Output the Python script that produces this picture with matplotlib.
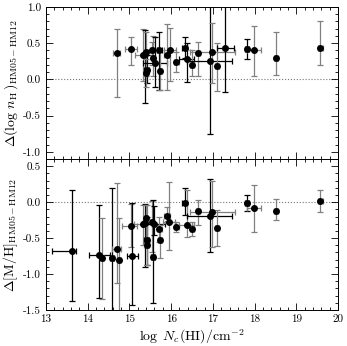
"""
Difference between HM05 and HM12 UV background models:
density offset (top) and metallicity offset (bottom) vs column density.
"""

import numpy as np
import matplotlib
matplotlib.use("Agg")
import matplotlib.pyplot as plt
from matplotlib.ticker import MultipleLocator, FormatStrFormatter

plt.rcParams["font.family"] = ["cmr10", "DejaVu Serif"]
plt.rcParams["mathtext.fontset"] = "cm"
plt.rcParams["axes.unicode_minus"] = False
plt.rcParams["axes.formatter.use_mathtext"] = False

GRAY = "#808080"
BLACK = "#000000"

# ---- top panel: Delta(log n_H) ----
nh_logN = [14.69, 15.04, 15.33, 15.37, 15.39, 15.41, 15.40, 15.55, 15.57, 15.61,
           15.72, 15.73, 15.89, 15.97, 16.12, 16.32, 16.37, 16.49, 16.64, 16.93,
           16.98, 17.09, 17.30, 17.81, 17.98, 18.51, 19.58]
nh_val = [0.36, 0.42, 0.34, 0.35, 0.38, 0.13, 0.085, 0.40, 0.29, 0.23,
          0.40, 0.12, 0.34, 0.40, 0.24, 0.44, 0.28, 0.20, 0.36, 0.26,
          0.38, 0.18, 0.44, 0.42, 0.40, 0.30, 0.44]
nh_low = [-0.25, 0.20, -0.02, -0.33, 0.05, -0.05, -0.10, 0.20, 0.05, -0.10,
          -0.15, -0.15, -0.14, -0.02, 0.10, 0.30, -0.04, 0.04, 0.04, -0.75,
          -0.05, -0.16, -0.18, 0.28, 0.05, 0.06, 0.20]
nh_high = [0.70, 0.58, 0.69, 0.68, 0.66, 0.33, 0.28, 0.52, 0.60, 0.58,
           0.66, 0.40, 0.76, 0.71, 0.38, 0.59, 0.50, 0.40, 0.52, 1.20,
           0.78, 0.50, 1.20, 0.56, 0.74, 0.65, 0.80]
nh_xerr = [0.08, 0.15, 0.20, 0.05, 0.05, 0.06, 0.05, 0.05, 0.05, 0.28,
           0.05, 0.05, 0.05, 0.15, 0.06, 0.05, 0.18, 0.05, 0.05, 0.54,
           0.54, 0.05, 0.20, 0.05, 0.17, 0.05, 0.05]
nh_dark = [0, 0, 0, 1, 0, 1, 0, 0, 0, 1,
           1, 0, 0, 0, 0, 1, 1, 0, 0, 1,
           0, 0, 1, 1, 0, 0, 0]

# ---- bottom panel: Delta[M/H] ----
mh_logN = [13.63, 14.28, 14.34, 14.58, 14.69, 14.75, 15.03, 15.07, 15.33, 15.37,
           15.39, 15.41, 15.41, 15.55, 15.58, 15.57, 15.72, 15.73, 15.90, 15.95,
           16.12, 16.32, 16.37, 16.49, 16.64, 16.93, 16.98, 17.09, 17.81, 17.98,
           18.51, 19.58]
mh_val = [-0.68, -0.74, -0.78, -0.77, -0.65, -0.81, -0.33, -0.75, -0.30, -0.29,
          -0.22, -0.53, -0.59, -0.28, -0.31, -0.76, -0.38, -0.52, -0.19, -0.28,
          -0.35, -0.01, -0.32, -0.38, -0.13, -0.19, -0.14, -0.36, -0.01, -0.08,
          -0.12, 0.01]
mh_low = [-1.37, -1.33, -1.35, -1.80, -1.13, -1.80, -0.62, -1.43, -0.60, -0.90,
          -0.55, -0.88, -0.88, -0.70, -0.45, -1.40, -0.55, -0.78, -0.29, -0.66,
          -0.42, -0.18, -0.48, -0.47, -0.32, -0.69, -0.62, -0.61, -0.12, -0.41,
          -0.25, -0.14]
mh_high = [0.17, -0.04, -0.22, 0.20, 0.27, -0.22, -0.02, -0.01, -0.04, -0.03,
           -0.04, -0.20, -0.04, 0.02, -0.05, 0.03, -0.20, -0.32, -0.07, 0.28,
           -0.28, 0.20, 0.17, -0.28, 0.03, 0.32, 0.29, -0.11, 0.10, 0.24,
           0.04, 0.17]
mh_xlo = [0.48, 0.26, 0.05, 0.05, 0.10, 0.05, 0.20, 0.14, 0.22, 0.05,
          0.05, 0.05, 0.05, 0.05, 0.28, 0.05, 0.05, 0.05, 0.08, 0.15,
          0.06, 0.05, 0.18, 0.05, 0.05, 0.54, 0.54, 0.05, 0.05, 0.17,
          0.05, 0.05]
mh_xhi = [0.08, 0.26, 0.05, 0.05, 0.10, 0.05, 0.15, 0.14, 0.22, 0.05,
          0.05, 0.05, 0.05, 0.05, 0.28, 0.05, 0.05, 0.05, 0.08, 0.15,
          0.06, 0.05, 0.18, 0.05, 0.05, 0.54, 0.54, 0.05, 0.05, 0.17,
          0.05, 0.05]
mh_dark = [1, 1, 0, 1, 0, 0, 0, 1, 0, 1,
           0, 1, 0, 0, 1, 1, 0, 0, 0, 0,
           0, 1, 0, 0, 0, 1, 0, 0, 1, 0,
           0, 0]


def draw_points(ax, x, y, lo, hi, xlo, xhi, dark):
    for i in range(len(x)):
        col = BLACK if dark[i] else GRAY
        ax.errorbar(
            x[i], y[i],
            yerr=[[y[i] - lo[i]], [hi[i] - y[i]]],
            xerr=[[xlo[i]], [xhi[i]]],
            fmt="none", ecolor=col, elinewidth=0.9, capsize=2, capthick=0.9,
        )
    ax.plot(x, y, "o", color="black", ms=4, zorder=5)


def style_axis(ax):
    ax.set_xlim(13, 20)
    ax.xaxis.set_major_locator(MultipleLocator(1))
    ax.xaxis.set_minor_locator(MultipleLocator(0.2))
    ax.yaxis.set_major_locator(MultipleLocator(0.5))
    ax.yaxis.set_minor_locator(MultipleLocator(0.1))
    ax.yaxis.set_major_formatter(FormatStrFormatter("%.1f"))
    ax.tick_params(which="both", direction="in", top=True, right=True,
                   labelsize=8, width=0.6)
    ax.tick_params(which="major", length=5)
    ax.tick_params(which="minor", length=2.5)
    ax.axhline(0.0, color="#777777", ls=":", lw=0.8, zorder=0)
    for s in ax.spines.values():
        s.set_linewidth(0.7)


fig = plt.figure(figsize=(3.47, 3.46), dpi=100)
ax_top = fig.add_axes([0.1326, 0.5405, 0.8415, 0.4393])
ax_bot = fig.add_axes([0.1326, 0.104, 0.8415, 0.4365])

draw_points(ax_top, nh_logN, nh_val, nh_low, nh_high, nh_xerr, nh_xerr, nh_dark)
style_axis(ax_top)
ax_top.set_ylim(-1.1, 1.0)
ax_top.tick_params(labelbottom=False)
ax_top.set_ylabel(r"$\Delta(\log\,n_{\rm H}\,)_{\rm HM05-HM12}$", fontsize=10, labelpad=2)

draw_points(ax_bot, mh_logN, mh_val, mh_low, mh_high, mh_xlo, mh_xhi, mh_dark)
style_axis(ax_bot)
ax_bot.set_ylim(-1.5, 0.6)
ax_bot.set_ylabel(r"$\Delta[{\rm M/H}]_{\rm HM05-HM12}$", fontsize=10, labelpad=2)
ax_bot.set_xlabel(r"$\log\ N_c({\rm HI})/{\rm cm}^{-2}$", fontsize=10, labelpad=2)

fig.savefig("out.png", dpi=100)
plt.close(fig)
